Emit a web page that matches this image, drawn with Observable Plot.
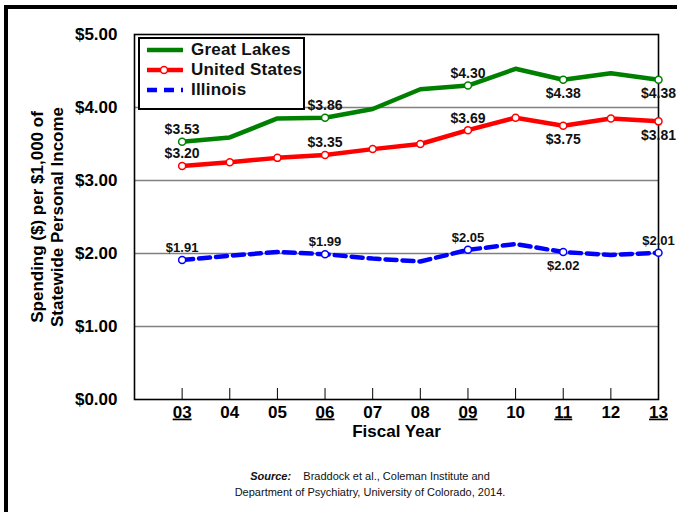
<!DOCTYPE html>
<html>
<head>
<meta charset="utf-8">
<script src="https://cdn.jsdelivr.net/npm/d3@7"></script>
<script src="https://cdn.jsdelivr.net/npm/@observablehq/plot@0.6"></script>
<style>
  html, body { margin: 0; padding: 0; background: #fff; overflow: hidden; }
  #wrap { position: relative; width: 677px; height: 512px; font-family: "Liberation Sans", Arial, sans-serif; }
  #outer { position: absolute; left: 4px; top: 5px; width: 900px; height: 900px; border-left: 4px solid #000; border-top: 4px solid #000; }
  #chart { position: absolute; left: 0; top: 0; }
  #legend { position: absolute; left: 138px; top: 37px; width: 163px; height: 69px; border: 2px solid #000; background: #fff; }
  .row { position: absolute; left: 0; height: 20px; display: flex; align-items: center; font-weight: bold; font-size: 17px; letter-spacing: 0.2px; color: #111; white-space: nowrap; }
  .row svg { margin-left: 7px; margin-right: 8px; flex: none; }
  #source { position: absolute; left: 170px; top: 469px; width: 400px; text-align: center; font-size: 11px; line-height: 15.5px; color: #111; }
</style>
</head>
<body>
<div id="wrap">
  <div id="outer"></div>
  <div id="chart"></div>
  <div id="legend"></div>
  <div id="source"><b><i>Source:</i></b>&nbsp;&nbsp;&nbsp;&nbsp;Braddock et al., Coleman Institute and<br>Department of Psychiatry, University of Colorado, 2014.</div>
</div>
<script>
// ---- data ----
const years = [3, 4, 5, 6, 7, 8, 9, 10, 11, 12, 13];
const greatLakes = [3.53, 3.59, 3.85, 3.86, 3.98, 4.25, 4.30, 4.53, 4.38, 4.47, 4.38];
const unitedStates = [3.20, 3.25, 3.31, 3.35, 3.43, 3.50, 3.69, 3.86, 3.75, 3.85, 3.81];
const illinois = [1.91, 1.97, 2.02, 1.99, 1.93, 1.89, 2.05, 2.13, 2.02, 1.98, 2.01];
const seriesNames = ["Great Lakes", "United States", "Illinois"];
const labelYears = [3, 6, 9, 11, 13];
const greatLakesLabels = ["$3.53", "$3.86", "$4.30", "$4.38", "$4.38"];
const unitedStatesLabels = ["$3.20", "$3.35", "$3.69", "$3.75", "$3.81"];
const illinoisLabels = ["$1.91", "$1.99", "$2.05", "$2.02", "$2.01"];
const yTicks = [0, 1, 2, 3, 4, 5];
const underlinedYears = [3, 6, 9, 11, 13];

// ---- build tables ----
const colors = {"Great Lakes": "#008000", "United States": "#ff0000", "Illinois": "#0000ff"};
const valueSets = [greatLakes, unitedStates, illinois];
const labelSets = [greatLakesLabels, unitedStatesLabels, illinoisLabels];
const rows = [];
seriesNames.forEach((s, i) => years.forEach((y, j) => rows.push({series: s, year: y, value: valueSets[i][j]})));
const labelRows = [];
seriesNames.forEach((s, i) => labelYears.forEach((y, j) => {
  const value = valueSets[i][years.indexOf(y)];
  const below = (y === 11) || (y === 13 && s !== "Illinois");
  labelRows.push({series: s, year: y, value, text: labelSets[i][j], below});
}));
const markerRows = rows.filter(d => d.series === "United States" || labelYears.includes(d.year));

const fmtYear = d3.format("02d");

const plot = Plot.plot({
  width: 677,
  height: 450,
  marginLeft: 134,
  marginRight: 19,
  marginTop: 34,
  marginBottom: 51,
  style: {fontFamily: "'Liberation Sans', Arial, sans-serif", background: "transparent", color: "#000"},
  x: {domain: [2, 13]},
  y: {domain: [0, 5]},
  marks: [
    Plot.gridY([1, 2, 3, 4], {stroke: "#808080", strokeOpacity: 1, strokeWidth: 1.5}),
    Plot.ruleX(years, {x: d => d, y1: 0, y2: 0.15, stroke: "#000", strokeWidth: 1}),
    Plot.frame({stroke: "#000", strokeWidth: 1.6}),
    Plot.axisY(yTicks, {tickSize: 0, tickPadding: 17, tickFormat: d3.format("$.2f"), fontSize: 17, fontWeight: "bold", label: null}),
    Plot.axisX(years, {tickSize: 0, tickPadding: 6, tickFormat: fmtYear, fontSize: 17, fontWeight: "bold", label: null}),
    Plot.text(["Fiscal Year"], {frameAnchor: "bottom", text: d => d, dy: 37, fontSize: 17, fontWeight: "bold"}),
    Plot.text(["Spending ($) per $1,000 of\nStatewide Personal Income"], {frameAnchor: "left", text: d => d, rotate: -90, dx: -88, textAnchor: "middle", lineAnchor: "middle", fontSize: 17, fontWeight: "bold", lineHeight: 1.18}),
    Plot.line(rows.filter(d => d.series === "Great Lakes"), {x: "year", y: "value", stroke: colors["Great Lakes"], strokeWidth: 4.5}),
    Plot.line(rows.filter(d => d.series === "United States"), {x: "year", y: "value", stroke: colors["United States"], strokeWidth: 4.5}),
    Plot.line(rows.filter(d => d.series === "Illinois"), {x: "year", y: "value", stroke: colors["Illinois"], strokeWidth: 4.5, strokeDasharray: "11,6"}),
    Plot.dot(markerRows, {x: "year", y: "value", r: 3.5, fill: "#fff", stroke: d => colors[d.series], strokeWidth: 1.5}),
    Plot.text(labelRows.filter(d => !d.below), {x: "year", y: "value", text: "text", dy: -12, fontSize: 14, fontWeight: "bold", fill: "#111"}),
    Plot.text(labelRows.filter(d => d.below), {x: "year", y: "value", text: "text", dy: 14, fontSize: 14, fontWeight: "bold", fill: "#111"})
  ]
});
document.getElementById("chart").appendChild(plot);

// underline selected year labels
d3.select(plot).selectAll('g[aria-label="x-axis tick label"] text').each(function() {
  const t = this.textContent;
  if (underlinedYears.map(fmtYear).includes(t)) d3.select(this).style("text-decoration", "underline");
});
// illinois labels slightly smaller
d3.select(plot).selectAll('g[aria-label="text"] text').each(function() {
  if (illinoisLabels.includes(this.textContent)) d3.select(this).attr("font-size", 13);
});

// ---- legend ----
const legend = document.getElementById("legend");
seriesNames.forEach((s, i) => {
  const row = document.createElement("div");
  row.className = "row";
  row.style.top = (i * 20 + 1) + "px";
  const c = colors[s];
  let sw = `<svg width="36" height="12"><line x1="0" x2="36" y1="6" y2="6" stroke="${c}" stroke-width="4.5"${s === "Illinois" ? ' stroke-dasharray="10,7"' : ''}/>`;
  if (s === "United States") sw += `<circle cx="17" cy="6" r="3.5" fill="#fff" stroke="${c}" stroke-width="1.5"/>`;
  sw += `</svg>`;
  row.innerHTML = sw + `<span>${s}</span>`;
  legend.appendChild(row);
});
</script>
</body>
</html>
